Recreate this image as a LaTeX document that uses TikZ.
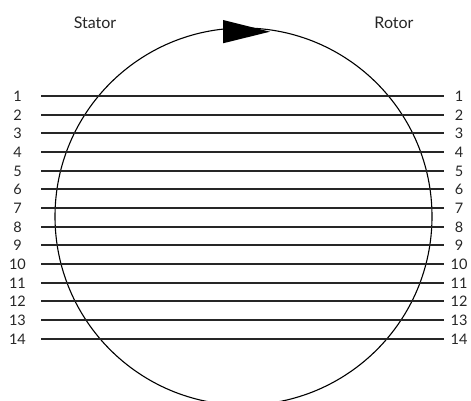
\documentclass[tikz,border=0pt]{standalone}
\usepackage{fontspec}
\setmainfont{Lato}
\begin{document}
\begin{tikzpicture}[x=1pt,y=-1pt,
  lbl/.style={inner sep=0pt,text=black!85,font=\fontsize{14.5}{16}\selectfont},
  ttl/.style={inner sep=0pt,text=black!85,font=\fontsize{16}{18}\selectfont},
  wire/.style={line width=1.5pt,black!85},
  ring/.style={line width=1.1pt}]
\useasboundingbox (0,0) rectangle (471,401);
\clip (0,0) rectangle (471,401);
\node[ttl] (stator) at (95,22.5) {Stator};
\node[ttl] (rotor) at (394,22.5) {Rotor};
\draw[ring] (243.5,216.5) circle[radius=188.5];
\fill (223,20) -- (270,31.7) -- (223,43.3) -- cycle;
\foreach \i in {1,...,14}{
  \pgfmathsetmacro{\yy}{round(96+(\i-1)*18.67)}
  \node[lbl] (l\i) at (17.5,\yy) {\i};
  \node[lbl] (r\i) at (459,\yy) {\i};
  \coordinate (a\i) at (41,\yy);
  \coordinate (b\i) at (444,\yy);
  \draw[wire] (a\i) -- (b\i);
}
\end{tikzpicture}
\end{document}
